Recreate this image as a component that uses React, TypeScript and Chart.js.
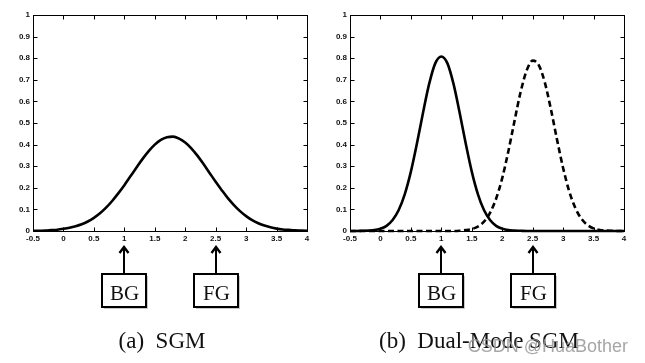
import React, { useEffect, useRef } from "react";
import { Chart, registerables } from "chart.js";

Chart.register(...registerables);

// ---- data ----
const xValues = [
  -0.5, -0.4, -0.3, -0.2, -0.1,
  0, 0.1, 0.2, 0.3, 0.4, 0.5, 0.6, 0.7, 0.8, 0.9,
  1.0, 1.1, 1.2, 1.3, 1.4, 1.5, 1.6, 1.7, 1.8, 1.9,
  2.0, 2.1, 2.2, 2.3, 2.4, 2.5, 2.6, 2.7, 2.8, 2.9,
  3.0, 3.1, 3.2, 3.3, 3.4, 3.5, 3.6, 3.7, 3.8, 3.9,
  4.0,
];

// (a) single Gaussian model
const sgmValues = [
  0.001, 0.001, 0.002, 0.004, 0.006,
  0.010, 0.015, 0.022, 0.031, 0.044, 0.061, 0.082, 0.108, 0.139, 0.174,
  0.212, 0.253, 0.294, 0.334, 0.370, 0.400, 0.422, 0.434, 0.437, 0.428,
  0.410, 0.383, 0.349, 0.310, 0.269, 0.228, 0.189, 0.152, 0.120, 0.092,
  0.069, 0.050, 0.036, 0.025, 0.017, 0.011, 0.007, 0.005, 0.003, 0.002,
  0.001,
];

// (b) dual-mode: background mode (solid)
const bgModeValues = [
  0.000, 0.000, 0.001, 0.002, 0.004,
  0.011, 0.024, 0.051, 0.097, 0.171, 0.275, 0.406, 0.549, 0.681, 0.776,
  0.808, 0.776, 0.681, 0.549, 0.406, 0.275, 0.171, 0.097, 0.051, 0.024,
  0.011, 0.004, 0.002, 0.001, 0.000, 0.000, 0.000, 0.000, 0.000, 0.000,
  0.000, 0.000, 0.000, 0.000, 0.000, 0.000, 0.000, 0.000, 0.000, 0.000,
  0.000,
];

// (b) dual-mode: foreground mode (dashed)
const fgModeValues = [
  0.000, 0.000, 0.000, 0.000, 0.000,
  0.000, 0.000, 0.000, 0.000, 0.000, 0.000, 0.000, 0.000, 0.000, 0.000,
  0.000, 0.000, 0.000, 0.001, 0.004, 0.009, 0.020, 0.043, 0.084, 0.150,
  0.245, 0.368, 0.507, 0.641, 0.742, 0.789, 0.768, 0.687, 0.563, 0.423,
  0.292, 0.184, 0.107, 0.057, 0.028, 0.012, 0.005, 0.002, 0.001, 0.000,
  0.000,
];

const markerPositions = [1, 2.5];
const markerLabels = ["BG", "FG"];
const titleA = "(a)  SGM";
const titleB = "(b)  Dual-Mode SGM";
const watermark = "CSDN @HuaBother";

const X_MIN = -0.5;
const X_MAX = 4;
const X_STEP = 0.5;
const Y_MIN = 0;
const Y_MAX = 1;
const Y_STEP = 0.1;

function fmt(v: number) {
  return String(parseFloat(Number(v).toFixed(1)));
}

function toPoints(vals: number[]) {
  return xValues.map((x, i) => ({ x, y: vals[i] }));
}

function framePlugin(title: string, mark: string | null) {
  return {
    id: "frameAndNotes",
    afterDraw(chart: any) {
      const { ctx, chartArea: a, scales } = chart;
      const xs = scales.x;
      const ys = scales.y;
      ctx.save();
      // box
      ctx.strokeStyle = "#000";
      ctx.lineWidth = 1;
      const L = Math.round(a.left) + 0.5;
      const T = Math.round(a.top) + 0.5;
      const R = Math.round(a.right) + 0.5;
      const B = Math.round(a.bottom) + 0.5;
      ctx.strokeRect(L, T, R - L, B - T);
      // inward ticks on all four sides
      const tl = 4;
      ctx.beginPath();
      xs.ticks.forEach((t: any) => {
        const px = Math.round(xs.getPixelForValue(t.value)) + 0.5;
        ctx.moveTo(px, B);
        ctx.lineTo(px, B - tl);
        ctx.moveTo(px, T);
        ctx.lineTo(px, T + tl);
      });
      ys.ticks.forEach((t: any) => {
        const py = Math.round(ys.getPixelForValue(t.value)) + 0.5;
        ctx.moveTo(L, py);
        ctx.lineTo(L + tl, py);
        ctx.moveTo(R, py);
        ctx.lineTo(R - tl, py);
      });
      ctx.stroke();

      // arrows + labelled boxes
      const tipY = a.bottom + 16;
      const boxTop = a.bottom + 43;
      const boxH = 33;
      const boxW = 44;
      markerPositions.forEach((v, i) => {
        const cx = Math.round(xs.getPixelForValue(v));
        ctx.strokeStyle = "#000";
        ctx.lineWidth = 2;
        ctx.beginPath();
        ctx.moveTo(cx, tipY + 1);
        ctx.lineTo(cx, boxTop);
        ctx.stroke();
        ctx.lineWidth = 2.4;
        ctx.beginPath();
        ctx.moveTo(cx - 4.5, tipY + 6);
        ctx.lineTo(cx, tipY);
        ctx.lineTo(cx + 4.5, tipY + 6);
        ctx.stroke();
        const bx = cx - boxW / 2;
        ctx.fillStyle = "#c9c9c9";
        ctx.fillRect(bx + 2, boxTop + 2, boxW, boxH);
        ctx.fillStyle = "#fff";
        ctx.fillRect(bx, boxTop, boxW, boxH);
        ctx.lineWidth = 2;
        ctx.strokeStyle = "#000";
        ctx.strokeRect(bx, boxTop, boxW, boxH);
        ctx.fillStyle = "#111";
        ctx.font = "21px 'Liberation Serif', 'Times New Roman', serif";
        ctx.textAlign = "center";
        ctx.textBaseline = "alphabetic";
        ctx.fillText(markerLabels[i], cx + 0.5, boxTop + 26);
      });

      // caption
      ctx.fillStyle = "#111";
      ctx.font = "23px 'Liberation Serif', 'Times New Roman', serif";
      ctx.textAlign = "center";
      ctx.textBaseline = "alphabetic";
      ctx.fillText(title, (a.left + a.right) / 2 - 8, a.bottom + 117);

      if (mark) {
        ctx.fillStyle = "rgba(150,150,150,0.85)";
        ctx.font = "18px 'Liberation Sans', Arial, sans-serif";
        ctx.textAlign = "right";
        ctx.textBaseline = "middle";
        ctx.fillText(mark, chart.width - 17, a.bottom + 116);
      }
      ctx.restore();
    },
  };
}

type Props = {
  width: number;
  height: number;
  left: number;
  yAxisWidth: number;
  rightPad: number;
  datasets: { values: number[]; dash: number[] }[];
  title: string;
  mark: string | null;
};

function SGMPanel(p: Props) {
  const ref = useRef<HTMLCanvasElement | null>(null);
  useEffect(() => {
    if (!ref.current) return;
    const tickFont = { family: "'Liberation Sans', Arial, sans-serif", size: 8, weight: "bold" as const };
    const chart = new Chart(ref.current, {
      type: "line",
      data: {
        datasets: p.datasets.map((d) => ({
          data: toPoints(d.values),
          borderColor: "#000",
          borderWidth: 2.6,
          borderDash: d.dash,
          pointRadius: 0,
          fill: false,
          clip: 4,
          cubicInterpolationMode: "monotone" as const,
        })),
      },
      options: {
        responsive: false,
        animation: false,
        events: [],
        layout: { padding: { left: 0, top: 15, right: p.rightPad, bottom: 120 } },
        plugins: {
          legend: { display: false },
          tooltip: { enabled: false },
          title: { display: false },
        },
        scales: {
          x: {
            type: "linear",
            min: X_MIN,
            max: X_MAX,
            afterFit: (s: any) => {
              s.height = 12;
            },
            grid: { display: false, drawTicks: false },
            border: { display: false },
            ticks: {
              stepSize: X_STEP,
              padding: 3,
              color: "#111",
              font: tickFont,
              maxRotation: 0,
              autoSkip: false,
              callback: (v: any) => fmt(v),
            },
          },
          y: {
            type: "linear",
            min: Y_MIN,
            max: Y_MAX,
            afterFit: (s: any) => {
              s.width = p.yAxisWidth;
            },
            grid: { display: false, drawTicks: false },
            border: { display: false },
            ticks: {
              stepSize: Y_STEP,
              padding: 3,
              color: "#111",
              font: tickFont,
              autoSkip: false,
              callback: (v: any) => fmt(v),
            },
          },
        },
      },
      plugins: [framePlugin(p.title, p.mark)],
    } as any);
    return () => chart.destroy();
  }, []);
  return (
    <canvas
      ref={ref}
      width={p.width}
      height={p.height}
      style={{ position: "absolute", left: p.left, top: 0, width: p.width, height: p.height, display: "block" }}
    />
  );
}

export default function App() {
  return (
    <div style={{ position: "absolute", left: 0, top: 0, width: 645, height: 363, background: "#fff", overflow: "hidden" }}>
      <SGMPanel
        width={322}
        height={363}
        left={0}
        yAxisWidth={33}
        rightPad={15}
        datasets={[{ values: sgmValues, dash: [] }]}
        title={titleA}
        mark={null}
      />
      <SGMPanel
        width={323}
        height={363}
        left={322}
        yAxisWidth={28}
        rightPad={21}
        datasets={[
          { values: bgModeValues, dash: [] },
          { values: fgModeValues, dash: [6, 3.5] },
        ]}
        title={titleB}
        mark={watermark}
      />
    </div>
  );
}
